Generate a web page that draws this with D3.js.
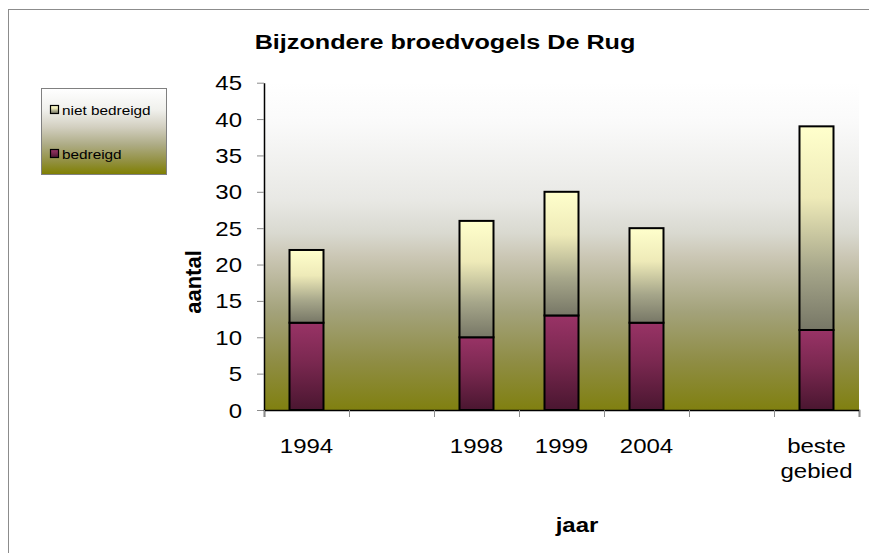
<!DOCTYPE html>
<html>
<head>
<meta charset="utf-8">
<script src="https://cdn.jsdelivr.net/npm/d3@7"></script>
<style>
  html, body { margin: 0; padding: 0; background: #fff; }
  svg { display: block; }
</style>
</head>
<body>
<svg id="chart" width="869" height="553"></svg>
<script>
/*
 stacked bars, Excel style with gradient fills
*/

// data
const categories = ["1994", "", "1998", "1999", "2004", "", "beste gebied"];
const bedreigd = [12, null, 10, 13, 12, null, 11];
const nietBedreigd = [10, null, 16, 17, 13, null, 28];
const yTicks = [0, 5, 10, 15, 20, 25, 30, 35, 40, 45];
const seriesNames = ["niet bedreigd", "bedreigd"];

const W = 869, H = 553;
const font = "'Liberation Sans', Arial, sans-serif";
const SX = 1.2;   // text in the source is stretched a bit horizontally

const margin = { top: 82.7, bottom: 143, left: 264, right: 10 };

const svg = d3.select("#chart");
const defs = svg.append("defs");

function vgrad(id, stops) {
    const g = defs.append("linearGradient")
        .attr("id", id)
        .attr("x1", 0).attr("y1", 0).attr("x2", 0).attr("y2", 1);
    stops.forEach(s => g.append("stop").attr("offset", s[0]).attr("stop-color", s[1]));
}

vgrad("bgGrad", [
    [0, "#ffffff"], [0.12, "#fafafa"], [0.36, "#e8e8e4"], [0.46, "#d9d9d0"],
    [0.53, "#cbc7b5"], [0.70, "#a3a27a"], [0.85, "#8f8d45"], [1, "#808010"]
]);
vgrad("legGrad", [
    [0, "#ffffff"], [0.25, "#f0f0ec"], [0.45, "#d2cfc0"], [0.65, "#aeac86"],
    [0.85, "#929040"], [1, "#7f7f00"]
]);
vgrad("gradBed", [[0, "#993366"], [0.45, "#7a2850"], [1, "#4a1630"]]);
vgrad("gradNiet", [[0, "#ffffcc"], [0.35, "#eeeab8"], [0.7, "#a6a68a"], [1, "#777766"]]);

const fills = { "bedreigd": "url(#gradBed)", "niet bedreigd": "url(#gradNiet)" };

// outer chart border (runs off the right and bottom of the picture)
svg.append("rect")
    .attr("x", 8.5).attr("y", 9.5)
    .attr("width", W).attr("height", H)
    .attr("fill", "none")
    .attr("stroke", "#8c8c8c");

function stext(g, x, y, str, size, weight, anchor) {
    return g.append("text")
        .attr("transform", `translate(${x},${y}) scale(${SX},1)`)
        .attr("font-family", font)
        .attr("font-size", size)
        .attr("font-weight", weight || "normal")
        .attr("text-anchor", anchor || "middle")
        .attr("fill", "#000")
        .text(str);
}

// title
stext(svg, 445, 49, "Bijzondere broedvogels De Rug", 21, "bold");

const idx = d3.range(categories.length);

const x = d3.scaleBand()
    .domain(idx)
    .range([margin.left, W - margin.right])
    .paddingInner(0.6)
    .paddingOuter(0.3);

const xEdge = d3.scaleLinear()
    .domain([0, categories.length])
    .range([margin.left, W - margin.right]);

const y = d3.scaleLinear()
    .domain([0, 45])
    .range([H - margin.bottom, margin.top]);

// plot area background
svg.append("rect")
    .attr("x", margin.left)
    .attr("y", y(45))
    .attr("width", W - margin.right - margin.left)
    .attr("height", y(0) - y(45))
    .attr("fill", "url(#bgGrad)");

// stack
const rows = idx.map(i => ({ i: i, "bedreigd": bedreigd[i] || 0, "niet bedreigd": nietBedreigd[i] || 0 }));
const stacked = d3.stack().keys(["bedreigd", "niet bedreigd"])(rows);

stacked.forEach(layer => {
    svg.append("g")
        .selectAll("rect")
        .data(layer.filter(d => d[1] > d[0]))
        .join("rect")
        .attr("x", d => x(d.data.i))
        .attr("y", d => y(d[1]))
        .attr("width", x.bandwidth())
        .attr("height", d => y(d[0]) - y(d[1]))
        .attr("fill", fills[layer.key])
        .attr("stroke", "#000")
        .attr("stroke-width", 2);
});

// y axis
const gy = svg.append("g")
    .attr("transform", `translate(${margin.left},0)`)
    .call(d3.axisLeft(y).tickValues(yTicks).tickSize(7).tickSizeOuter(0));
gy.select(".domain").attr("stroke", "#000").attr("stroke-width", 1.5);
gy.selectAll(".tick line").attr("stroke", "#8c8c8c");
gy.selectAll(".tick text")
    .attr("x", null).attr("dy", null)
    .attr("transform", `translate(-22,7) scale(${SX},1)`)
    .attr("font-family", font)
    .attr("font-size", 20)
    .attr("fill", "#000");

// x axis: ticks at category edges
const gxe = svg.append("g")
    .attr("transform", `translate(0,${y(0)})`)
    .call(d3.axisBottom(xEdge).tickValues(d3.range(categories.length + 1)).tickSize(7).tickFormat(""));
gxe.select(".domain").attr("stroke", "#000").attr("stroke-width", 1.5);
gxe.selectAll(".tick line").attr("stroke", "#8c8c8c");

// x labels
const gx = svg.append("g")
    .attr("transform", `translate(0,${y(0)})`)
    .call(d3.axisBottom(x).tickSize(0).tickFormat(""));
gx.select(".domain").remove();
gx.selectAll(".tick").each(function(i) {
    const words = categories[i].split(" ");
    const t = d3.select(this).append("text")
        .attr("transform", `translate(0,43) scale(${SX},1)`)
        .attr("font-family", font)
        .attr("font-size", 20)
        .attr("text-anchor", "middle")
        .attr("fill", "#000");
    words.forEach((w, k) => t.append("tspan").attr("x", 0).attr("dy", k ? 25 : 0).text(w));
});

// axis titles
stext(svg, 577, 532, "jaar", 20, "bold");
svg.append("text")
    .attr("transform", `translate(201,282) rotate(-90)`)
    .attr("font-family", font)
    .attr("font-size", 22)
    .attr("font-weight", "bold")
    .attr("text-anchor", "middle")
    .text("aantal");

// legend
const leg = svg.append("g").attr("transform", "translate(41,88)");
leg.append("rect")
    .attr("x", 0.5).attr("y", 0.5)
    .attr("width", 125).attr("height", 86)
    .attr("fill", "url(#legGrad)")
    .attr("stroke", "#808080");

const legY = d3.scalePoint().domain(seriesNames).range([22, 66]);
seriesNames.forEach(name => {
    leg.append("rect")
        .attr("x", 9.5).attr("y", legY(name) - 4.5)
        .attr("width", 8).attr("height", 8)
        .attr("fill", fills[name])
        .attr("stroke", "#000")
        .attr("stroke-width", 1.2);
    leg.append("text")
        .attr("transform", `translate(21,${legY(name) + 4.5}) scale(1.18,1)`)
        .attr("font-family", font)
        .attr("font-size", 13)
        .text(name);
});
</script>
</body>
</html>
